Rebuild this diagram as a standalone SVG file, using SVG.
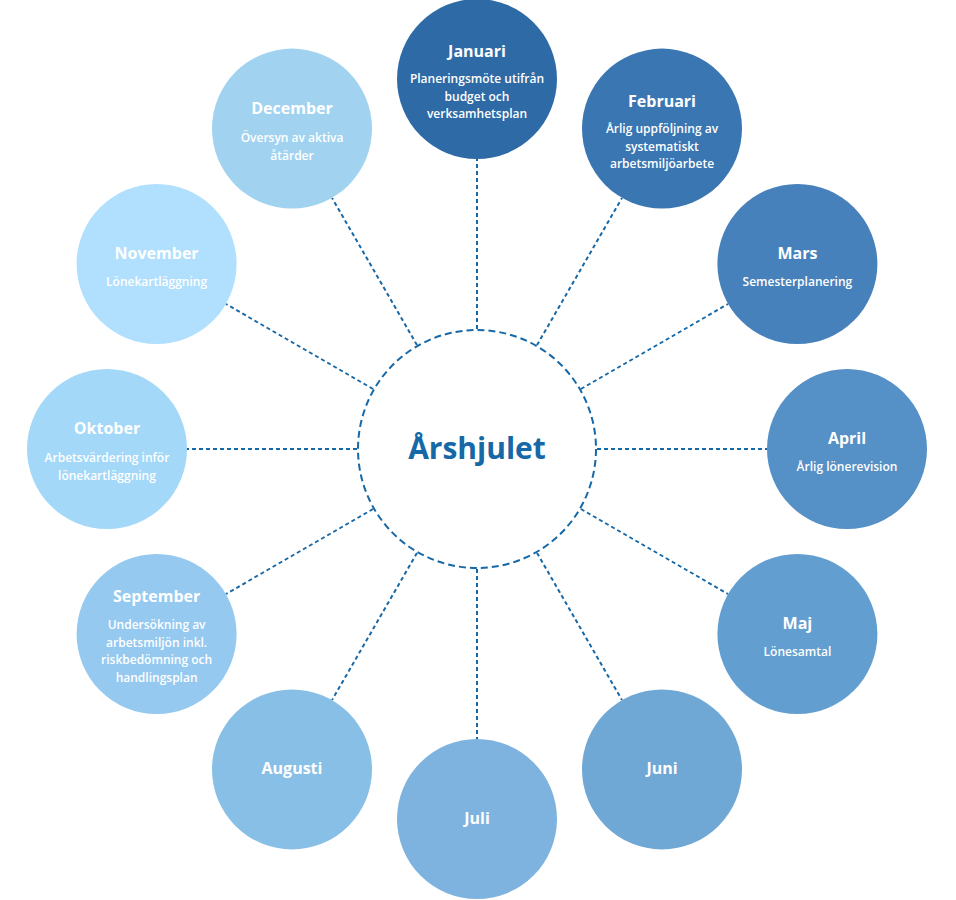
<svg xmlns="http://www.w3.org/2000/svg" width="956" height="900" viewBox="0 0 956 900">
<style>
.t{font-family:"Open Sans","Noto Sans",sans-serif;font-size:16px;font-weight:700;fill:#ffffff;text-anchor:middle}
.s{font-family:"Open Sans","Noto Sans",sans-serif;font-size:12px;font-weight:600;fill:#ffffff;text-anchor:middle}
.c{stroke:#1668a7;stroke-width:2;stroke-dasharray:4 3;fill:none}
.hub{stroke:#1668a7;stroke-width:2;stroke-dasharray:7 4;fill:#ffffff}
.h{font-family:"Open Sans","Noto Sans",sans-serif;font-size:30px;font-weight:700;fill:#1668a7;text-anchor:middle}
</style>
<rect width="956" height="900" fill="#ffffff"/>
<g id="connectors">
<line class="c" x1="477" y1="329" x2="477" y2="159"/>
<line class="c" x1="537" y1="345.1" x2="622" y2="197.9"/>
<line class="c" x1="580.9" y1="389" x2="728.1" y2="304"/>
<line class="c" x1="597" y1="449" x2="767" y2="449"/>
<line class="c" x1="580.9" y1="509" x2="728.1" y2="594"/>
<line class="c" x1="537" y1="552.9" x2="622" y2="700.1"/>
<line class="c" x1="477" y1="569" x2="477" y2="739"/>
<line class="c" x1="417" y1="552.9" x2="332" y2="700.1"/>
<line class="c" x1="373.1" y1="509" x2="225.9" y2="594"/>
<line class="c" x1="357" y1="449" x2="187" y2="449"/>
<line class="c" x1="373.1" y1="389" x2="225.9" y2="304"/>
<line class="c" x1="417" y1="345.1" x2="332" y2="197.9"/>
</g>
<g id="center">
<circle class="hub" cx="477" cy="449" r="119"/>
<text class="h" x="477" y="459">Årshjulet</text>
</g>
<g id="januari">
<circle cx="477" cy="79" r="80" fill="#2e6aa6"/>
<text class="t" x="477" y="57">Januari</text>
<text class="s" x="477" y="83">Planeringsmöte utifrån</text>
<text class="s" x="477" y="100.5">budget och</text>
<text class="s" x="477" y="118">verksamhetsplan</text>
</g>
<g id="februari">
<circle cx="662" cy="128.6" r="80" fill="#3a76b1"/>
<text class="t" x="662" y="107">Februari</text>
<text class="s" x="662" y="133">Årlig uppföljning av</text>
<text class="s" x="662" y="150.5">systematiskt</text>
<text class="s" x="662" y="168">arbetsmiljöarbete</text>
</g>
<g id="mars">
<circle cx="797.4" cy="264" r="80" fill="#4781bb"/>
<text class="t" x="797.4" y="259">Mars</text>
<text class="s" x="797.4" y="286">Semesterplanering</text>
</g>
<g id="april">
<circle cx="847" cy="449" r="80" fill="#5590c6"/>
<text class="t" x="847" y="444">April</text>
<text class="s" x="847" y="471">Årlig lönerevision</text>
</g>
<g id="maj">
<circle cx="797.4" cy="634" r="80" fill="#639ed0"/>
<text class="t" x="797.4" y="629">Maj</text>
<text class="s" x="797.4" y="656">Lönesamtal</text>
</g>
<g id="juni">
<circle cx="662" cy="769.4" r="80" fill="#6fa7d5"/>
<text class="t" x="662" y="774">Juni</text>
</g>
<g id="juli">
<circle cx="477" cy="819" r="80" fill="#7db3de"/>
<text class="t" x="477" y="824">Juli</text>
</g>
<g id="augusti">
<circle cx="292" cy="769.4" r="80" fill="#88bfe7"/>
<text class="t" x="292" y="774">Augusti</text>
</g>
<g id="september">
<circle cx="156.6" cy="634" r="80" fill="#95c9f0"/>
<text class="t" x="156.6" y="602">September</text>
<text class="s" x="156.6" y="629">Undersökning av</text>
<text class="s" x="156.6" y="646.5">arbetsmiljön inkl.</text>
<text class="s" x="156.6" y="664">riskbedömning och</text>
<text class="s" x="156.6" y="681.5">handlingsplan</text>
</g>
<g id="oktober">
<circle cx="107" cy="449" r="80" fill="#a3d8f8"/>
<text class="t" x="107" y="434">Oktober</text>
<text class="s" x="107" y="462">Arbetsvärdering inför</text>
<text class="s" x="107" y="479.5">lönekartläggning</text>
</g>
<g id="november">
<circle cx="156.6" cy="264" r="80" fill="#b0e0fd"/>
<text class="t" x="156.6" y="259">November</text>
<text class="s" x="156.6" y="286">Lönekartläggning</text>
</g>
<g id="december">
<circle cx="292" cy="128.6" r="80" fill="#a1d3f0"/>
<text class="t" x="292" y="114">December</text>
<text class="s" x="292" y="142">Översyn av aktiva</text>
<text class="s" x="292" y="159.5">åtärder</text>
</g>
</svg>
